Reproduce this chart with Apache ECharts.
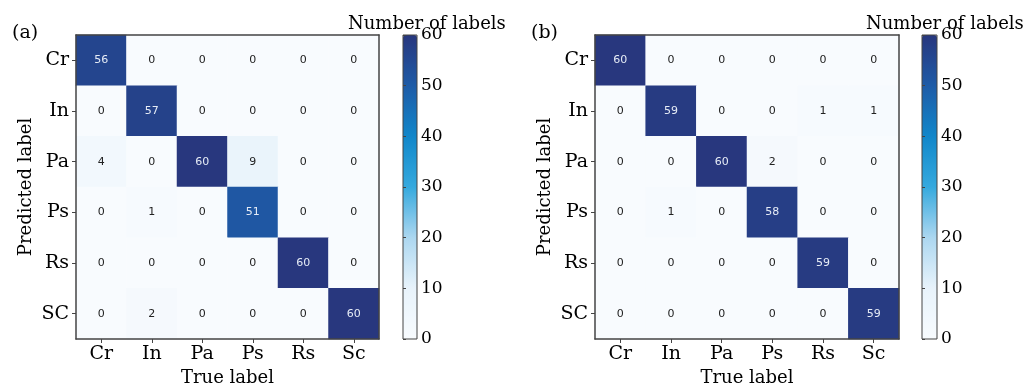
<!DOCTYPE html>
<html><head><meta charset="utf-8">
<script src="https://cdn.jsdelivr.net/npm/echarts@6/dist/echarts.min.js"></script>
<style>html,body{margin:0;padding:0;background:#fff}#c{width:1026px;height:387px}</style>
</head><body><div id="c"></div>
<script>
const trueLabels = ['Cr','In','Pa','Ps','Rs','Sc'];
const predLabels = ['Cr','In','Pa','Ps','Rs','SC'];
const matrixA = [
  [56,0,0,0,0,0],
  [0,57,0,0,0,0],
  [4,0,60,9,0,0],
  [0,1,0,51,0,0],
  [0,0,0,0,60,0],
  [0,2,0,0,0,60]
];
const matrixB = [
  [60,0,0,0,0,0],
  [0,59,0,0,1,1],
  [0,0,60,2,0,0],
  [0,1,0,58,0,0],
  [0,0,0,0,59,0],
  [0,0,0,0,0,59]
];
const colorMin = 0, colorMax = 60, colorStep = 10;
const cmap = ['#f8fbfe','#e8f3fb','#acd7f0','#35a9de','#1187ca','#1e5ba7','#28377e'];
const serif = 'DejaVu Serif';

function toData(m){
  const out=[];
  m.forEach((row,yi)=>row.forEach((v,xi)=>{
    out.push({value:[xi,yi,v],label:{color: v>30?'#e6ecf6':'#222'}});
  }));
  return out;
}
const axLine = {show:true,lineStyle:{color:'#444',width:1.5}};
function heatAxes(gi){
  return {
    x:[
      {type:'category',gridIndex:gi,data:trueLabels,position:'bottom',z:5,
       axisLine:axLine,axisTick:{show:true,alignWithLabel:true,length:4,lineStyle:{color:'#444'}},
       axisLabel:{fontFamily:serif,fontSize:19,color:'#000',margin:6},
       name:'True label',nameLocation:'middle',nameGap:26,
       nameTextStyle:{fontFamily:serif,fontSize:18,color:'#000'},splitLine:{show:false}},
      {type:'category',gridIndex:gi,data:trueLabels,position:'top',z:5,
       axisLine:axLine,axisTick:{show:false},axisLabel:{show:false}}
    ],
    y:[
      {type:'category',gridIndex:gi,data:predLabels,inverse:true,position:'left',z:5,
       axisLine:axLine,axisTick:{show:true,alignWithLabel:true,length:4,lineStyle:{color:'#444'}},
       axisLabel:{fontFamily:serif,fontSize:19,color:'#000',margin:7},
       name:'Predicted label',nameLocation:'middle',nameGap:41,nameRotate:90,
       nameTextStyle:{fontFamily:serif,fontSize:18,color:'#000'}},
      {type:'category',gridIndex:gi,data:predLabels,inverse:true,position:'right',z:5,
       axisLine:axLine,axisTick:{show:false},axisLabel:{show:false}}
    ]
  };
}
function cbAxes(gi){
  return {
    x:[{type:'value',gridIndex:gi,show:false}],
    y:[{type:'value',gridIndex:gi,min:colorMin,max:colorMax,interval:colorStep,position:'right',z:5,
        axisLine:{show:false},axisTick:{show:true,length:3,lineStyle:{color:'#444'}},
        axisLabel:{fontFamily:serif,fontSize:17,color:'#000',margin:4},splitLine:{show:false}}]
  };
}
const hA = heatAxes(0), cA = cbAxes(1), hB = heatAxes(2), cB = cbAxes(3);
const xAxis = [...hA.x, ...cA.x, ...hB.x, ...cB.x];
const yAxis = [...hA.y, ...cA.y, ...hB.y, ...cB.y];

const chart = echarts.init(document.getElementById('c'));
chart.setOption({
  animation:false,
  title:[
    {text:'(a)',left:7,top:19,textStyle:{fontFamily:serif,fontSize:19,fontWeight:'normal',color:'#000'}},
    {text:'(b)',left:526,top:19,textStyle:{fontFamily:serif,fontSize:19,fontWeight:'normal',color:'#000'}},
    {text:'Number of labels',left:343,top:10,textStyle:{fontFamily:serif,fontSize:18,fontWeight:'normal',color:'#000'}},
    {text:'Number of labels',left:861,top:10,textStyle:{fontFamily:serif,fontSize:18,fontWeight:'normal',color:'#000'}}
  ],
  grid:[
    {left:76,top:35,width:303,height:304,containLabel:false,outerBoundsMode:'none'},
    {left:403,top:35,width:14,height:304,show:true,borderColor:'#444',borderWidth:1,backgroundColor:'transparent',z:10,containLabel:false,outerBoundsMode:'none'},
    {left:595,top:35,width:304,height:304,containLabel:false,outerBoundsMode:'none'},
    {left:922,top:35,width:15,height:304,show:true,borderColor:'#444',borderWidth:1,backgroundColor:'transparent',z:10,containLabel:false,outerBoundsMode:'none'}
  ],
  xAxis, yAxis,
  visualMap:[
    {type:'continuous',min:colorMin,max:colorMax,seriesIndex:0,left:403,top:35,itemWidth:14,itemHeight:304,
     padding:0,calculable:false,hoverLink:false,inRange:{color:cmap},z:4},
    {type:'continuous',min:colorMin,max:colorMax,seriesIndex:1,left:922,top:35,itemWidth:15,itemHeight:304,
     padding:0,calculable:false,hoverLink:false,inRange:{color:cmap},z:4}
  ],
  series:[
    {type:'heatmap',xAxisIndex:0,yAxisIndex:0,data:toData(matrixA),
     label:{show:true,fontFamily:'DejaVu Sans',fontSize:11},itemStyle:{borderWidth:0},emphasis:{disabled:true}},
    {type:'heatmap',xAxisIndex:3,yAxisIndex:3,data:toData(matrixB),
     label:{show:true,fontFamily:'DejaVu Sans',fontSize:11},itemStyle:{borderWidth:0},emphasis:{disabled:true}}
  ]
});
</script></body></html>
